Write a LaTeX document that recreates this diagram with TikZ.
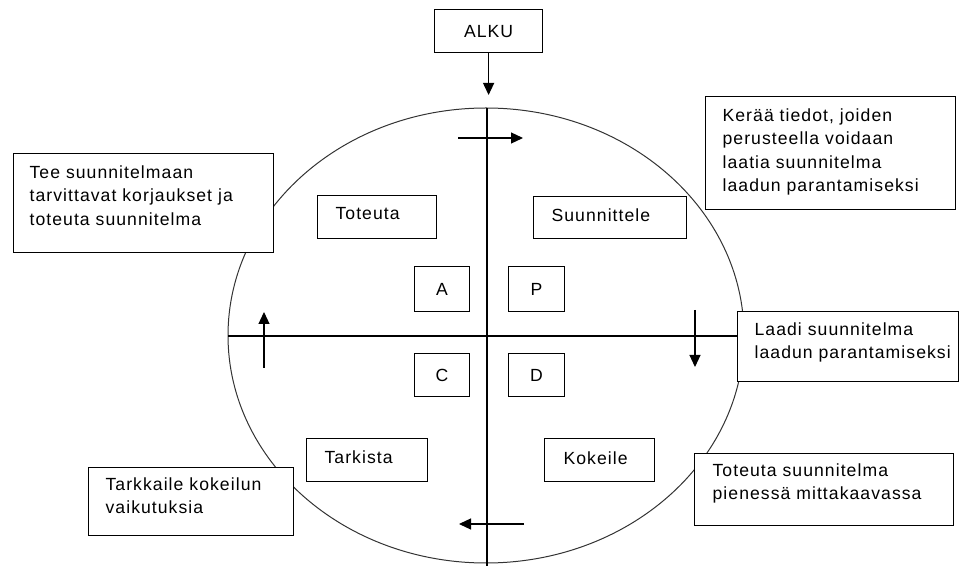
\documentclass[tikz,border=0pt]{standalone}
\usepackage{fontspec}
\setmainfont{Liberation Sans}[LetterSpace=6]
\usetikzlibrary{arrows.meta,calc}

\tikzset{every picture/.style={line width=0.9pt}}
\tikzset{
  box/.style={draw, fill=white, inner sep=0pt, anchor=north west, font=\fontsize{13.2}{17.5}\selectfont},
  boxtext/.style={anchor=north west, inner sep=0pt, align=left, font=\fontsize{13.2}{17.5}\selectfont},
  flow/.style={-{Triangle[length=9pt,width=8.25pt]}},
}

\begin{document}
\begin{tikzpicture}[x=0.75pt,y=0.75pt,yscale=-1,xscale=1]
\useasboundingbox (0,0) rectangle (965,566);

%Ellipse
\draw [color=black!80, line width=0.75pt] (486,335.5) ellipse [x radius=258, y radius=227.5];
%Straight Lines (axes)
\draw (487,108) -- (487,566);
\draw (228,336) -- (745,336);

%Straight Lines (turning arrows)
\draw [flow] (458,138) -- (523,138);
\draw [flow] (695,310) -- (695,367);
\draw [flow] (524,524) -- (459,524);
\draw [flow] (264,368) -- (264,312);

% start
\node (alku) [box, minimum width=81pt, minimum height=32.25pt] at (434,9) {ALKU};
\coordinate (entry) at (487,95);
\draw [flow] (alku.south) -- (alku.south |- entry);

% letters
\node (a) [box, minimum width=41.25pt, minimum height=33.75pt] at (414,266) {A};
\node (p) [box, minimum width=42pt, minimum height=33.75pt] at (508,266) {P};
\node (c) [box, minimum width=41.25pt, minimum height=32.25pt] at (414,353) {C};
\node (d) [box, minimum width=42pt, minimum height=32.25pt] at (508,353) {D};

% phases
\node (toteuta) [box, minimum width=89.25pt, minimum height=32.25pt] at (317,195) {};
\node (toteutatext) [boxtext] at ($(toteuta.north west)+(18,12)$) {Toteuta};
\node (suunnittele) [box, minimum width=114.75pt, minimum height=31.5pt] at (533,196) {};
\node (suunnitteletext) [boxtext] at ($(suunnittele.north west)+(18,12)$) {Suunnittele};
\node (tarkista) [box, minimum width=90.75pt, minimum height=32.25pt] at (306,438) {};
\node (tarkistatext) [boxtext] at ($(tarkista.north west)+(18,12)$) {Tarkista};
\node (kokeile) [box, minimum width=82.5pt, minimum height=32.25pt] at (544,438) {};
\node (kokeiletext) [boxtext] at ($(kokeile.north west)+(19,13)$) {Kokeile};

% descriptions
\node (tee) [box, minimum width=195pt, minimum height=74.25pt] at (13,153) {};
\node (teetext) [boxtext] at ($(tee.north west)+(16,12)$) {Tee suunnitelmaan\\tarvittavat korjaukset ja\\toteuta suunnitelma};
\node (keraa) [box, minimum width=187.5pt, minimum height=84.75pt] at (705,96) {};
\node (keraatext) [boxtext] at ($(keraa.north west)+(17,12)$) {Kerää tiedot, joiden\\perusteella voidaan\\laatia suunnitelma\\laadun parantamiseksi};
\node (laadi) [box, minimum width=165.75pt, minimum height=52.5pt] at (737,311) {};
\node (laaditext) [boxtext] at ($(laadi.north west)+(17,11)$) {Laadi suunnitelma\\laadun parantamiseksi};
\node (pieni) [box, minimum width=194.25pt, minimum height=54pt] at (694,453) {};
\node (pienitext) [boxtext] at ($(pieni.north west)+(18,10)$) {Toteuta suunnitelma\\pienessä mittakaavassa};
\node (tarkkaile) [box, minimum width=153.75pt, minimum height=51pt] at (88,467) {};
\node (tarkkailetext) [boxtext] at ($(tarkkaile.north west)+(17,10)$) {Tarkkaile kokeilun\\vaikutuksia};

\end{tikzpicture}
\end{document}
